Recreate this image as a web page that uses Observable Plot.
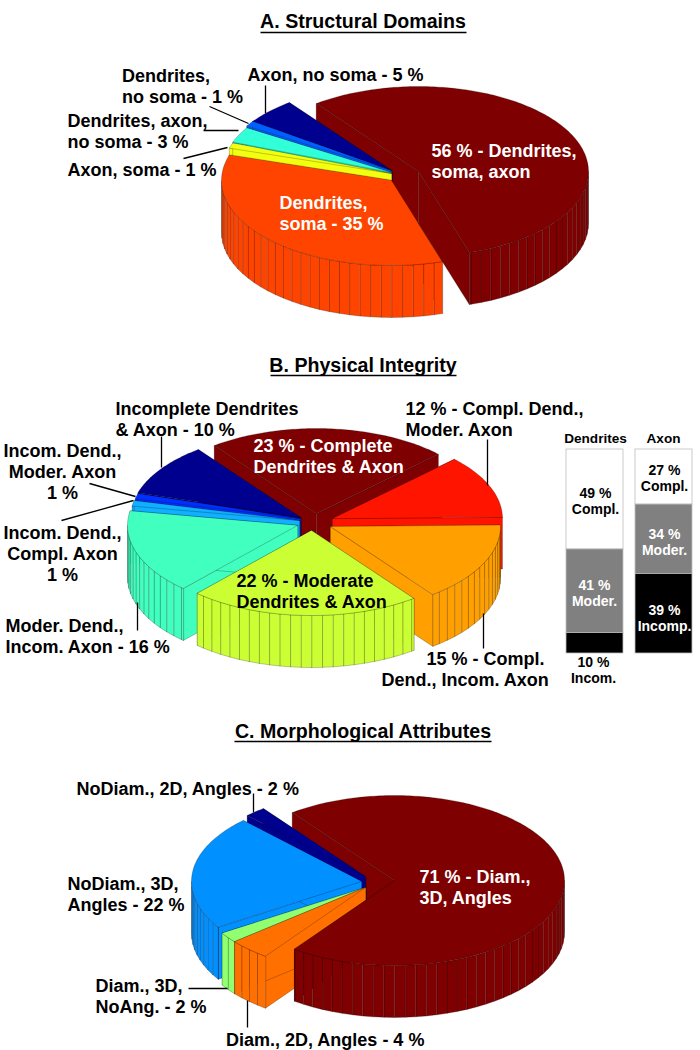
<!DOCTYPE html>
<html>
<head>
<meta charset="utf-8">
<style>html,body{margin:0;padding:0;background:#fff}svg{display:block}</style>
<script src="https://cdn.jsdelivr.net/npm/d3@7"></script>
<script src="https://cdn.jsdelivr.net/npm/@observablehq/plot@0.6"></script>
</head>
<body>
<script>
// ---- data ----
const structuralValues = [56, 35, 1, 3, 1, 5];
const structuralColors = ["#7f0000", "#ff4400", "#f2ff10", "#30ffd8", "#0060ff", "#00008f"];
const integrityValues = [23, 12, 15, 22, 16, 1, 1, 10];
const integrityColors = ["#7f0000", "#ff1400", "#ffa000", "#ccff33", "#40ffbf", "#10b0ff", "#0030ff", "#00008f"];
const attributeValues = [71, 4, 2, 22, 2];
const attributeColors = ["#7f0000", "#ff7000", "#90ff70", "#0090ff", "#00008f"];
const dendriteShares = [49, 41, 10];
const axonShares = [27, 34, 39];
const shareColors = ["#ffffff", "#808080", "#000000"];

// ---- layout ----
const rx = 170, ry = 85, depth = 52, startAngle = -37, facet = 3.6;
const pies = [
  {values: structuralValues, colors: structuralColors,
   centers: [[418,171],[391,180],[391,173],[391,172],[391,170],[391,170]],
   order: [5,4,3,2,1], firstOnTop: true},
  {values: integrityValues, colors: integrityColors,
   centers: [[316,513],[332,518],[330,526],[311,530],[297,525],[299,520],[300,518],[300,517]],
   order: [0,7,6,5,4,1,2,3], firstOnTop: false},
  {values: attributeValues, colors: attributeColors,
   centers: [[394,880],[365,887],[365,887],[361,881],[365,876]],
   order: [4,3,2,1], firstOnTop: true}
];
const barBox = {top: 449, height: 204};
const bars = [{shares: dendriteShares, x1: 566, x2: 623}, {shares: axonShares, x1: 635, x2: 692}];

const titles = [
  {t: "A. Structural Domains", x: 362.5, y: 21},
  {t: "B. Physical Integrity", x: 362.5, y: 365},
  {t: "C. Morphological Attributes", x: 362.5, y: 731}
];
const underlines = [
  {x1: 260, x2: 466, y: 32},
  {x1: 270, x2: 456, y: 375},
  {x1: 234, x2: 491, y: 741}
];
const labels = [
  {t: "Dendrites,\nno soma - 1 %", x: 121.5, y: 67},
  {t: "Axon, no soma - 5 %", x: 247, y: 66},
  {t: "Dendrites, axon,\nno soma - 3 %", x: 67, y: 112},
  {t: "Axon, soma - 1 %", x: 67, y: 161},
  {t: "Incomplete Dendrites\n& Axon - 10 %", x: 115, y: 400},
  {t: "Moder. Dend.,\nIncom. Axon - 16 %", x: 5, y: 617},
  {t: "12 % - Compl. Dend.,\nModer. Axon", x: 405, y: 400},
  {t: "15 % - Compl.", x: 426, y: 650},
  {t: "Dend., Incom. Axon", x: 381, y: 671},
  {t: "22 % - Moderate\nDendrites & Axon", x: 236, y: 572},
  {t: "NoDiam., 2D, Angles - 2 %", x: 76, y: 780},
  {t: "NoDiam., 3D,\nAngles - 22 %", x: 67, y: 875},
  {t: "Diam., 3D,\nNoAng. - 2 %", x: 95, y: 977},
  {t: "Diam., 2D, Angles - 4 %", x: 225.5, y: 1031}
];
const whiteLabels = [
  {t: "56 % - Dendrites,\nsoma, axon", x: 431, y: 142},
  {t: "Dendrites,\nsoma - 35 %", x: 279, y: 194},
  {t: "23 % - Complete\nDendrites & Axon", x: 253, y: 437},
  {t: "71 % - Diam.,\n3D, Angles", x: 419, y: 868}
];
const centeredLabels = [
  {t: "Incom. Dend.,\nModer. Axon\n1 %", x: 62, y: 442},
  {t: "Incom. Dend.,\nCompl. Axon\n1 %", x: 62, y: 524}
];
const barLabels = [
  {t: "49 %\nCompl.", x: 595, y: 486, c: "#000"},
  {t: "41 %\nModer.", x: 594, y: 578, c: "#fff"},
  {t: "10 %\nIncom.", x: 593, y: 655, c: "#000"},
  {t: "27 %\nCompl.", x: 664, y: 463, c: "#000"},
  {t: "34 %\nModer.", x: 664, y: 527, c: "#fff"},
  {t: "39 %\nIncomp.", x: 664, y: 603, c: "#fff"}
];
const barHeads = [{t: "Dendrites", x: 595, y: 438}, {t: "Axon", x: 663, y: 438}];
const leaders = [
  {x1:265,y1:85,x2:265,y2:113},{x1:209,y1:106,x2:248,y2:123},{x1:203,y1:130,x2:238,y2:130},{x1:183,y1:158,x2:227,y2:147},
  {x1:161,y1:436,x2:161,y2:467},{x1:89,y1:483,x2:135,y2:496},{x1:61,y1:520,x2:133,y2:500},{x1:137,y1:602,x2:137,y2:630},
  {x1:487,y1:439,x2:487,y2:485},{x1:483,y1:613,x2:483,y2:648},
  {x1:253,y1:793,x2:253,y2:812},{x1:188,y1:988,x2:227,y2:988},{x1:247,y1:1000,x2:247,y2:1027}
];

// ---- build wedge polygons from the values ----
const polys = [];
let pid = 0;
function add(pts, color) {
  const id = pid++;
  for (const [x, y] of pts) polys.push({id, x, y, color});
}
const rimPoint = (c, a) => {
  const r = a * Math.PI / 180;
  return [c[0] + rx * Math.sin(r), c[1] - ry * Math.cos(r)];
};
const lowered = ([x, y]) => [x, y + depth];
function cutFace(c, a, color) {
  const p = rimPoint(c, a);
  add([c, p, lowered(p), lowered(c)], color);
}
function sideWall(c, a0, a1, color) {
  const lo = Math.max(a0, 90), hi = Math.min(a1, 270);
  if (hi <= lo) return;
  const steps = [lo];
  for (let k = Math.ceil(lo / facet); k * facet < hi; k++) if (k * facet > lo) steps.push(k * facet);
  steps.push(hi);
  for (let i = 0; i + 1 < steps.length; i++) {
    const p = rimPoint(c, steps[i]), q = rimPoint(c, steps[i + 1]);
    add([p, q, lowered(q), lowered(p)], color);
  }
}
function topFace(c, a0, a1, color) {
  const pts = [c];
  for (let a = a0; a < a1; a += 1) pts.push(rimPoint(c, a));
  pts.push(rimPoint(c, a1));
  add(pts, color);
}
for (const pie of pies) {
  const total = d3.sum(pie.values);
  let acc = startAngle;
  const spans = pie.values.map(v => { const s = [acc, acc + v / total * 360]; acc = s[1]; return s; });
  const whole = i => {
    cutFace(pie.centers[i], spans[i][0], pie.colors[i]);
    cutFace(pie.centers[i], spans[i][1], pie.colors[i]);
    sideWall(pie.centers[i], spans[i][0], spans[i][1], pie.colors[i]);
    topFace(pie.centers[i], spans[i][0], spans[i][1], pie.colors[i]);
  };
  if (pie.firstOnTop) cutFace(pie.centers[0], spans[0][0], pie.colors[0]);
  pie.order.forEach(whole);
  if (pie.firstOnTop) {
    cutFace(pie.centers[0], spans[0][1], pie.colors[0]);
    sideWall(pie.centers[0], spans[0][0], spans[0][1], pie.colors[0]);
    topFace(pie.centers[0], spans[0][0], spans[0][1], pie.colors[0]);
  }
}

// ---- stacked share bars ----
const barRects = [];
for (const b of bars) {
  let cum = 0;
  b.shares.forEach((v, i) => {
    barRects.push({x1: b.x1, x2: b.x2,
      y1: barBox.top + cum / 100 * barBox.height,
      y2: barBox.top + (cum + v) / 100 * barBox.height,
      color: shareColors[i]});
    cum += v;
  });
}

const font = {fontFamily: "Liberation Sans, Arial, sans-serif", fontWeight: "bold"};
const labelOpts = {...font, x: "x", y: "y", text: "t", fontSize: 18, lineHeight: 1.15, lineAnchor: "top"};
const chart = Plot.plot({
  width: 700, height: 1050,
  margin: 0,
  x: {domain: [0, 700], range: [0, 700], axis: null},
  y: {domain: [0, 1050], range: [0, 1050], axis: null},
  color: {type: "identity"},
  marks: [
    Plot.line(polys, {x: "x", y: "y", z: "id", fill: "color", stroke: "#000", strokeWidth: 0.5,
      strokeOpacity: 0.45, curve: "linear-closed"}),
    Plot.rect(barRects, {x1: "x1", x2: "x2", y1: "y1", y2: "y2", fill: "color", stroke: "#bdbdbd", strokeWidth: 0.8}),
    Plot.link(leaders, {x1: "x1", y1: "y1", x2: "x2", y2: "y2", stroke: "#000", strokeWidth: 1.3}),
    Plot.link(underlines, {x1: "x1", x2: "x2", y1: "y", y2: "y", stroke: "#000", strokeWidth: 1.6}),
    Plot.text(titles, {...font, x: "x", y: "y", text: "t", fontSize: 19.6, fill: "#000"}),
    Plot.text(labels, {...labelOpts, textAnchor: "start", fill: "#000"}),
    Plot.text(whiteLabels, {...labelOpts, textAnchor: "start", fill: "#fff"}),
    Plot.text(centeredLabels, {...labelOpts, textAnchor: "middle", fill: "#000"}),
    Plot.text(barLabels, {...font, x: "x", y: "y", text: "t", fontSize: 14, lineHeight: 1.15, lineAnchor: "top", fill: "c"}),
    Plot.text(barHeads, {...font, x: "x", y: "y", text: "t", fontSize: 13.6, fill: "#000"})
  ]
});
document.body.appendChild(chart);
</script>
</body>
</html>
